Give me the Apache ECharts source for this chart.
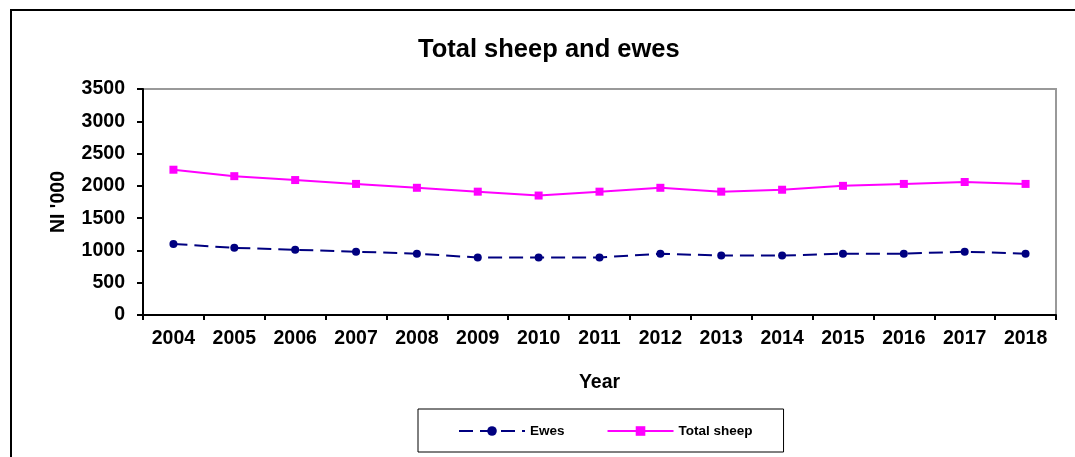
<!DOCTYPE html>
<html>
<head>
<meta charset="utf-8">
<script src="https://cdn.jsdelivr.net/npm/echarts@6/dist/echarts.min.js"></script>
<style>
  html, body { margin: 0; padding: 0; background: #fff; }
  #chart { width: 1075px; height: 457px; }
</style>
</head>
<body>
<div id="chart"></div>
<script>
// Sheep numbers, thousands of head
const years = ['2004', '2005', '2006', '2007', '2008', '2009', '2010', '2011',
               '2012', '2013', '2014', '2015', '2016', '2017', '2018'];
const ewes = [1100, 1040, 1010, 980, 950, 890, 890, 890, 950, 920, 920, 950, 950, 980, 950];
const totalSheep = [2250, 2150, 2090, 2030, 1970, 1910, 1850, 1910, 1970, 1910, 1940, 2000, 2030, 2060, 2030];
const yTicks = { min: 0, max: 3500, interval: 500 };

const FONT = 'Liberation Sans, Arial, sans-serif';
const chart = echarts.init(document.getElementById('chart'));

chart.setOption({
  animation: false,
  backgroundColor: '#fff',
  title: {
    text: 'Total sheep and ewes',
    left: 418,
    top: 37,
    padding: 0,
    textStyle: { fontFamily: FONT, fontWeight: 'bold', fontSize: 25.5, color: '#000' }
  },
  graphic: [{
    type: 'rect',
    shape: { x: 11, y: 10, width: 1200, height: 600 },
    style: { fill: 'none', stroke: '#000', lineWidth: 2 },
    silent: true,
    z: -1
  }],
  grid: {
    left: 143, right: 19, top: 89, bottom: 142,
    show: true,
    borderColor: '#999',
    borderWidth: 2,
    backgroundColor: '#fff'
  },
  legend: {
    left: 418,
    top: 409,
    padding: [15, 31, 14, 40],
    borderColor: '#000',
    borderWidth: 1,
    itemWidth: 66,
    itemHeight: 12,
    itemGap: 42,
    textStyle: { fontFamily: FONT, fontWeight: 'bold', fontSize: 13.5, color: '#000' },
    data: ['Ewes', 'Total sheep']
  },
  xAxis: {
    type: 'category',
    data: years,
    boundaryGap: true,
    name: 'Year',
    nameLocation: 'middle',
    nameGap: 58,
    nameTextStyle: { fontFamily: FONT, fontWeight: 'bold', fontSize: 19.5, color: '#000' },
    axisLine: { lineStyle: { color: '#000', width: 2 } },
    axisTick: { show: true, length: 5, lineStyle: { color: '#000', width: 2 } },
    axisLabel: { margin: 14, fontFamily: FONT, fontWeight: 'bold', fontSize: 19.5, color: '#000' },
    splitLine: { show: false }
  },
  yAxis: {
    type: 'value',
    min: yTicks.min,
    max: yTicks.max,
    interval: yTicks.interval,
    name: "NI '000",
    nameLocation: 'middle',
    nameGap: 74,
    nameRotate: 90,
    nameTextStyle: { fontFamily: FONT, fontWeight: 'bold', fontSize: 19.5, color: '#000' },
    axisLine: { show: true, lineStyle: { color: '#000', width: 2 } },
    axisTick: { show: true, length: 6, lineStyle: { color: '#000', width: 2 } },
    axisLabel: {
      margin: 18,
      formatter: (v) => String(v),
      fontFamily: FONT, fontWeight: 'bold', fontSize: 19.5, color: '#000'
    },
    splitLine: { show: false }
  },
  series: [
    {
      name: 'Ewes',
      type: 'line',
      data: ewes,
      symbol: 'circle',
      symbolSize: 8,
      color: '#000080',
      lineStyle: { color: '#000080', width: 2, type: [14, 7] },
      itemStyle: { color: '#000080' }
    },
    {
      name: 'Total sheep',
      type: 'line',
      data: totalSheep,
      symbol: 'rect',
      symbolSize: 8,
      color: '#FF00FF',
      lineStyle: { color: '#FF00FF', width: 2 },
      itemStyle: { color: '#FF00FF' }
    }
  ]
});
</script>
</body>
</html>
